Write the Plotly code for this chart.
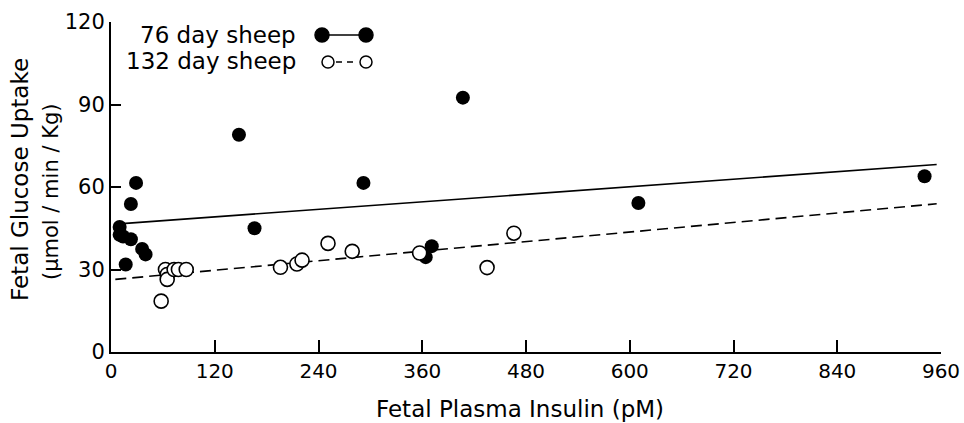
import plotly.graph_objects as go

# 76 day sheep (filled circles)
x76 = [10, 10, 14, 29, 23, 23, 36, 40, 17, 148, 166, 292, 407, 371, 364, 610, 941]
y76 = [45.5, 42.6, 42.0, 61.5, 53.8, 41.0, 37.5, 35.5, 31.8, 79.0, 45.0, 61.5, 92.5, 38.5, 34.5, 54.2, 63.9]

# 132 day sheep (open circles)
x132 = [58, 63, 65, 65, 73, 78, 87, 196, 215, 221, 251, 279, 357, 435, 466]
y132 = [18.5, 30.0, 28.2, 26.4, 30.0, 30.0, 30.0, 30.8, 32.0, 33.4, 39.5, 36.6, 36.0, 30.7, 43.2]

# regression line endpoints
fit_x = [5, 955]
fit76_y = [46.5, 68.2]
fit132_y = [26.4, 53.9]

x_ticks = [0, 120, 240, 360, 480, 600, 720, 840, 960]
y_ticks = [0, 30, 60, 90, 120]

FONT = "DejaVu Sans"

fig = go.Figure()
fig.add_trace(go.Scatter(x=fit_x, y=fit76_y, mode="lines",
                         line=dict(color="black", width=1.6), showlegend=False))
fig.add_trace(go.Scatter(x=fit_x, y=fit132_y, mode="lines",
                         line=dict(color="black", width=1.6, dash="11px,6px"), showlegend=False))
fig.add_trace(go.Scatter(x=x76, y=y76, mode="markers",
                         marker=dict(color="black", size=14, symbol="circle"), showlegend=False))
fig.add_trace(go.Scatter(x=x132, y=y132, mode="markers",
                         marker=dict(color="white", size=14, symbol="circle",
                                     line=dict(color="black", width=1.6)), showlegend=False))

W, H = 964, 423
L, R, T, B = 111, 23, 22, 71
pw, ph = W - L - R, H - T - B

def px(xp):
    return (xp - L) / pw

def py(yp):
    return (H - B - yp) / ph

# legend (text, then symbols)
fig.add_annotation(x=px(298), y=py(35), xref="paper", yref="paper", text="76 day sheep",
                   showarrow=False, xanchor="right", yanchor="middle",
                   font=dict(family=FONT, size=23, color="black"))
fig.add_annotation(x=px(298), y=py(61), xref="paper", yref="paper", text="132 day sheep",
                   showarrow=False, xanchor="right", yanchor="middle",
                   font=dict(family=FONT, size=23, color="black"))
fig.add_shape(type="line", xref="paper", yref="paper", x0=px(322), x1=px(366), y0=py(35), y1=py(35),
              line=dict(color="black", width=1.6))
fig.add_shape(type="line", xref="paper", yref="paper", x0=px(336), x1=px(358), y0=py(62), y1=py(62),
              line=dict(color="black", width=1.6, dash="6px,5px"))
for cx, cy, fill, r in [(322, 35, "black", 7), (366, 35, "black", 7),
                        (328, 62, "white", 6), (366, 62, "white", 6)]:
    fig.add_shape(type="circle", xref="paper", yref="paper",
                  x0=px(cx - r), x1=px(cx + r), y0=py(cy + r), y1=py(cy - r),
                  line=dict(color="black", width=1.5), fillcolor=fill)

# axis titles
fig.add_annotation(x=px(20), y=py(180), xref="paper", yref="paper", text="Fetal Glucose Uptake",
                   showarrow=False, textangle=-90, xanchor="center", yanchor="middle",
                   font=dict(family=FONT, size=23, color="black"))
fig.add_annotation(x=px(51), y=py(192), xref="paper", yref="paper", text="(\u03bcmol / min / Kg)",
                   showarrow=False, textangle=-90, xanchor="center", yanchor="middle",
                   font=dict(family=FONT, size=21, color="black"))
fig.add_annotation(x=px(520), y=py(409), xref="paper", yref="paper", text="Fetal Plasma Insulin (pM)",
                   showarrow=False, xanchor="center", yanchor="middle",
                   font=dict(family=FONT, size=23, color="black"))

fig.update_layout(
    width=W, height=H,
    margin=dict(l=L, r=R, t=T, b=B),
    paper_bgcolor="white", plot_bgcolor="white",
    font=dict(family=FONT, color="black"),
    xaxis=dict(range=[0, 960], tickvals=x_ticks, ticktext=[str(v) for v in x_ticks],
               ticks="inside", ticklen=12, tickwidth=1.6, tickcolor="black",
               showline=True, linecolor="black", linewidth=2, showgrid=False, zeroline=False,
               tickfont=dict(family=FONT, size=20), automargin=False),
    yaxis=dict(range=[0, 120], tickvals=y_ticks, ticktext=[str(v) for v in y_ticks],
               ticks="inside", ticklen=10, tickwidth=1.6, tickcolor="black",
               showline=True, linecolor="black", linewidth=2, showgrid=False, zeroline=False,
               tickfont=dict(family=FONT, size=21), automargin=False),
)

fig.write_html("out.html", config={"displayModeBar": False},
               post_script="document.body.style.margin='0';document.body.style.overflow='hidden';")
